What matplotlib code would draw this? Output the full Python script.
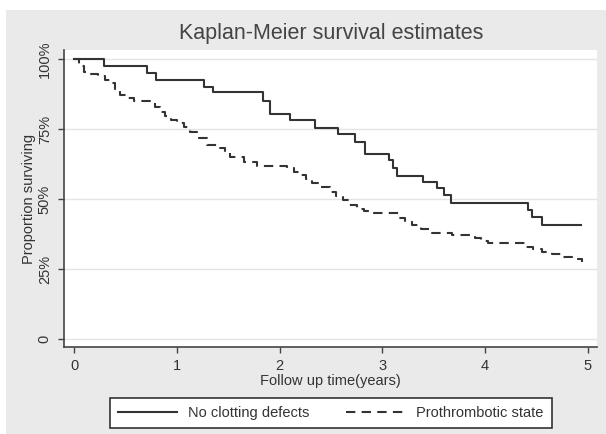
import numpy as np
import matplotlib
matplotlib.use("Agg")
import matplotlib.pyplot as plt
from matplotlib.patches import Rectangle

plt.rcParams['font.family'] = ['Liberation Sans', 'DejaVu Sans']

# Kaplan-Meier step data (years, % surviving)
time_noclot = [0, 0.287, 0.706, 0.80, 1.26, 1.35, 1.84, 1.91, 2.105, 2.35,
               2.566, 2.73, 2.83, 3.07, 3.10, 3.14, 3.40, 3.53, 3.60, 3.67,
               4.42, 4.46, 4.55, 4.93]
surv_noclot = [100, 97.5, 95.1, 92.4, 90.1, 88.1, 85.1, 80.4, 78.1, 75.3,
               73.2, 70.5, 66.0, 63.9, 61.0, 58.3, 56.2, 53.8, 51.4, 48.5,
               46.0, 43.7, 40.8, 40.8]

time_proth = [0, 0.05, 0.097, 0.16, 0.23, 0.30, 0.36, 0.40, 0.45, 0.52, 0.58,
              0.745, 0.79, 0.84, 0.89, 0.94, 1.00, 1.07, 1.13, 1.20, 1.29,
              1.42, 1.47, 1.52, 1.65, 1.78, 2.07, 2.14, 2.20, 2.26, 2.32,
              2.40, 2.49, 2.55, 2.62, 2.68, 2.75, 2.82, 2.90, 3.16, 3.22,
              3.29, 3.38, 3.48, 3.68, 3.90, 3.96, 4.03, 4.39, 4.47, 4.55,
              4.65, 4.74, 4.85, 4.94]
surv_proth = [100, 97.5, 95.5, 94.6, 93.9, 92.6, 91.3, 89.2, 87.1, 86.0, 85.1,
              84.4, 82.8, 81.2, 79.7, 78.2, 77.0, 75.8, 73.8, 71.7, 69.3,
              68.1, 66.6, 65.1, 63.3, 61.8, 61.0, 59.8, 58.6, 57.1, 55.6,
              54.1, 52.6, 51.0, 49.5, 47.9, 46.5, 45.6, 44.9, 43.1, 41.9,
              40.7, 39.2, 37.8, 37.1, 36.0, 35.1, 34.2, 33.0, 32.1, 31.2,
              30.3, 29.4, 28.5, 27.6]

x_ticks = [0, 1, 2, 3, 4, 5]
y_ticks = [0, 25, 50, 75, 100]
y_labels = ['0', '25%', '50%', '75%', '100%']

fig = plt.figure(figsize=(6.06, 4.34), dpi=100, facecolor='white')
fig.patches.append(Rectangle((6 / 606, 0), 1, 1 - 10 / 434, transform=fig.transFigure,
                             facecolor='#eaeaea', edgecolor='none', zorder=0))

ax = fig.add_axes([64.3 / 606, 1 - 347 / 434, (597 - 64.3) / 606, (347 - 50) / 434])
ax.set_facecolor('white')
ax.set_zorder(1)

line_col = '#333333'
ax.step(time_noclot, surv_noclot, where='post', color=line_col, lw=1.5,
        label='No clotting defects')
ax.step(time_proth, surv_proth, where='post', color=line_col, lw=1.5,
        linestyle=(0, (4.5, 3)), label='Prothrombotic state')

ax.set_xlim(-0.095, 5.09)
ax.set_ylim(-2.86, 103.2)
ax.set_xticks(x_ticks)
ax.set_yticks(y_ticks)
ax.set_yticklabels(y_labels, rotation=90, va='center')
ax.yaxis.grid(True, color='#e4e4e4', lw=1)
ax.set_axisbelow(True)

for s in ['top', 'right']:
    ax.spines[s].set_visible(False)
for s in ['left', 'bottom']:
    ax.spines[s].set_color('#444444')
    ax.spines[s].set_linewidth(1.2)
ax.tick_params(axis='both', direction='out', length=4, width=1, color='#444444',
               labelsize=10.5, labelcolor='#333333', pad=5)

ax.set_xlabel('Follow up time(years)', fontsize=10.5, color='#333333', labelpad=0)
ax.set_ylabel('Proportion surviving', fontsize=10.5, color='#333333', labelpad=1)

fig.text(331 / 606, 1 - 33 / 434, 'Kaplan-Meier survival estimates', ha='center',
         va='center', fontsize=15.5, color='#444444')

leg = fig.legend(loc='center', bbox_to_anchor=(331 / 606, 1 - 413 / 434), ncol=2,
                 fontsize=10.5, handlelength=4, fancybox=False, framealpha=1,
                 edgecolor='#333333', borderpad=0.55, columnspacing=2.5)
leg.get_frame().set_linewidth(1.2)
for t in leg.get_texts():
    t.set_color('#333333')

fig.savefig('out.png', dpi=100, facecolor=fig.get_facecolor())
